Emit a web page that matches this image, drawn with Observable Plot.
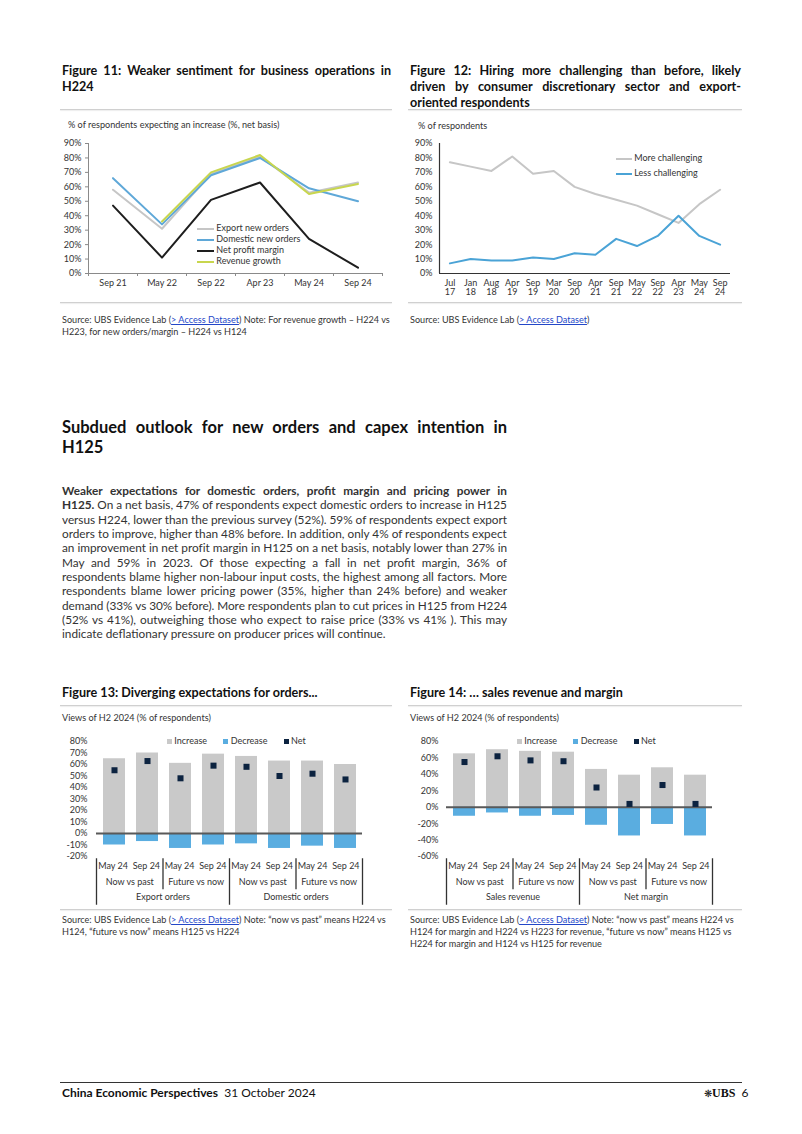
<!DOCTYPE html>
<html><head><meta charset="utf-8">
<script src="https://cdn.jsdelivr.net/npm/d3@7"></script>
<script src="https://cdn.jsdelivr.net/npm/@observablehq/plot@0.6"></script>
<style>
body{margin:0;background:#fff;}
#page{position:relative;width:802px;height:1134px;font-family:Lato,"Open Sans",sans-serif;color:#222;overflow:hidden;background:#fff}
.a{position:absolute;white-space:nowrap}
.ft{font-weight:bold;font-size:12.6px;line-height:16px;color:#111}
.sep{position:absolute;height:1px;background:#d0d0d0;box-shadow:0 1px 1px #ececec}
.sm{font-size:9.1px;line-height:12px;color:#333}
a{color:#2347c8;text-decoration:underline}
.bd{font-size:11.8px;line-height:14.4px;color:#333}
.hd{font-size:16.5px;line-height:20px;font-weight:bold;color:#111}
.lg{font-size:9px;color:#333;line-height:11px}
.sw{display:inline-block;vertical-align:middle}
</style></head>
<body><div id="page">

<!-- Figure 11 title -->
<div class="a ft fit" data-w="329" data-j="1" style="left:62px;top:63px">Figure 11: Weaker sentiment for business operations in</div>
<div class="a ft" style="left:62px;top:79px">H224</div>
<div class="sep" style="left:60px;top:109px;width:332px"></div>
<div class="a sm" style="left:68px;top:119px">% of respondents expecting an increase (%, net basis)</div>
<div id="fig11" class="a" style="left:60px;top:115px"></div>
<div class="a lg" style="left:197px;top:222px">
 <div><span class="sw" style="width:17px;height:2px;background:#c6c6c6"></span> Export new orders</div>
 <div><span class="sw" style="width:17px;height:2px;background:#5fa8d8"></span> Domestic new orders</div>
 <div><span class="sw" style="width:17px;height:2px;background:#1e1e1e"></span> Net profit margin</div>
 <div><span class="sw" style="width:17px;height:2px;background:#c8d64e"></span> Revenue growth</div>
</div>
<div class="sep" style="left:60px;top:302px;width:332px"></div>
<div class="a sm" style="left:62px;top:314px">Source: UBS Evidence Lab (<a>&gt; Access Dataset</a>) Note: For revenue growth – H224 vs</div>
<div class="a sm" style="left:62px;top:326px">H223, for new orders/margin – H224 vs H124</div>

<!-- Figure 12 title -->
<div class="a ft fit" data-w="331" data-j="1" style="left:410px;top:63px">Figure 12: Hiring more challenging than before, likely</div>
<div class="a ft fit" data-w="331" data-j="1" style="left:410px;top:79px">driven by consumer discretionary sector and export-</div>
<div class="a ft" style="left:410px;top:95px">oriented respondents</div>
<div class="sep" style="left:408px;top:109px;width:334px"></div>
<div class="a sm" style="left:418px;top:120px">% of respondents</div>
<div id="fig12" class="a" style="left:410px;top:115px"></div>
<div class="a lg" style="left:616px;top:150px;line-height:15px">
 <div><span class="sw" style="width:16px;height:2px;background:#c6c6c6"></span> More challenging</div>
 <div><span class="sw" style="width:16px;height:2px;background:#4aa3d6"></span> Less challenging</div>
</div>
<div class="sep" style="left:408px;top:302px;width:334px"></div>
<div class="a sm" style="left:410px;top:314px">Source: UBS Evidence Lab (<a>&gt; Access Dataset</a>)</div>

<!-- Heading -->
<div class="a hd fit" data-w="445" data-j="1" style="left:62px;top:417px">Subdued outlook for new orders and capex intention in</div>
<div class="a hd" style="left:62px;top:437px">H125</div>

<!-- Paragraph -->
<div id="para"></div>

<!-- Figure 13 -->
<div class="a ft" style="left:62px;top:685px">Figure 13: Diverging expectations for orders...</div>
<div class="sep" style="left:60px;top:705px;width:332px"></div>
<div class="a sm" style="left:62px;top:712px">Views of H2 2024 (% of respondents)</div>
<div id="fig13" class="a" style="left:60px;top:730px"></div>
<div id="fig13ax" class="a" style="left:60px;top:850px"></div>
<div class="a lg" style="left:167px;top:735px">
 <span class="sw" style="width:5px;height:5px;background:#c9c9c9"></span> Increase
 <span class="sw" style="width:5px;height:5px;background:#5aade0;margin-left:14px"></span> Decrease
 <span class="sw" style="width:5px;height:5px;background:#0c2340;margin-left:14px"></span> Net
</div>
<div class="sep" style="left:60px;top:909px;width:332px"></div>
<div class="a sm" style="left:62px;top:914px">Source: UBS Evidence Lab (<a>&gt; Access Dataset</a>) Note: “now vs past” means H224 vs</div>
<div class="a sm" style="left:62px;top:926px">H124, “future vs now” means H125 vs H224</div>

<!-- Figure 14 -->
<div class="a ft" style="left:410px;top:685px">Figure 14: … sales revenue and margin</div>
<div class="sep" style="left:408px;top:705px;width:334px"></div>
<div class="a sm" style="left:410px;top:712px">Views of H2 2024 (% of respondents)</div>
<div id="fig14" class="a" style="left:410px;top:730px"></div>
<div id="fig14ax" class="a" style="left:410px;top:850px"></div>
<div class="a lg" style="left:517px;top:735px">
 <span class="sw" style="width:5px;height:5px;background:#c9c9c9"></span> Increase
 <span class="sw" style="width:5px;height:5px;background:#5aade0;margin-left:14px"></span> Decrease
 <span class="sw" style="width:5px;height:5px;background:#0c2340;margin-left:14px"></span> Net
</div>
<div class="sep" style="left:408px;top:909px;width:334px"></div>
<div class="a sm" style="left:410px;top:914px">Source: UBS Evidence Lab (<a>&gt; Access Dataset</a>) Note: “now vs past” means H224 vs</div>
<div class="a sm" style="left:410px;top:926px">H124 for margin and H224 vs H223 for revenue, “future vs now” means H125 vs</div>
<div class="a sm" style="left:410px;top:938px">H224 for margin and H124 vs H125 for revenue</div>

<!-- Footer -->
<div style="position:absolute;left:60px;top:1082px;width:682px;height:1px;background:#333"></div>
<div class="a" style="left:62px;top:1086px;font-size:12px;line-height:14px;color:#111"><b>China Economic Perspectives</b>&nbsp; 31 October 2024</div>
<div class="a" style="left:704px;top:1086px;font-size:12px;line-height:14px;color:#111"><span style="font-size:10px">❋</span><span style="font-family:'Liberation Serif',serif;font-weight:bold">UBS</span>&nbsp; 6</div>

</div>
<script>
// ---------- data ----------
const fig11Dates = ["Sep 21", "May 22", "Sep 22", "Apr 23", "May 24", "Sep 24"];
const exportNewOrders = [58, 31, 69, 81, 56, 63];
const domesticNewOrders = [66, 34, 68, 80, 59, 50];
const netProfitMargin = [47, 11, 51, 63, 24, 4];
const revenueGrowth = [null, 36, 70, 82, 55, 62];
const fig11Ticks = [0, 10, 20, 30, 40, 50, 60, 70, 80, 90];

const fig12Dates = ["Jul\n17", "Jan\n18", "Aug\n18", "Apr\n19", "Sep\n19", "Mar\n20", "Sep\n20", "Apr\n21", "Sep\n21", "May\n22", "Sep\n22", "Apr\n23", "May\n24", "Sep\n24"];
const moreChallenging = [77, 74, 71, 81, 69, 71, 60, 55, 51, 47, 41, 35, 48, 58];
const lessChallenging = [7, 10, 9, 9, 11, 10, 14, 13, 24, 19, 26, 40, 26, 20];
const fig12Ticks = [0, 10, 20, 30, 40, 50, 60, 70, 80, 90];

const surveyPeriods = ["May 24", "Sep 24"];
const comparisons = ["Now vs past", "Future vs now"];

const fig13Groups = ["Export orders", "Domestic orders"];
const fig13Increase = [65, 70, 61, 69, 67, 63, 63, 60];
const fig13Decrease = [-10, -7, -13, -10, -9, -13, -11, -13];
const fig13Net = [55, 63, 48, 59, 58, 50, 52, 47];
const fig13Ticks = [-20, -10, 0, 10, 20, 30, 40, 50, 60, 70, 80];

const fig14Groups = ["Sales revenue", "Net margin"];
const fig14Increase = [65, 70, 68, 67, 46, 39, 48, 39];
const fig14Decrease = [-11, -7, -11, -10, -22, -35, -21, -35];
const fig14Net = [55, 62, 57, 56, 24, 4, 27, 4];
const fig14Ticks = [-60, -40, -20, 0, 20, 40, 60, 80];

// ---------- paragraph ----------
const paraLines = [
  ["<b>Weaker expectations for domestic orders, profit margin and pricing power in</b>", 1],
  ["<b>H125.</b> On a net basis, 47% of respondents expect domestic orders to increase in H125", 1],
  ["versus H224, lower than the previous survey (52%). 59% of respondents expect export", 1],
  ["orders to improve, higher than 48% before. In addition, only 4% of respondents expect", 1],
  ["an improvement in net profit margin in H125 on a net basis, notably lower than 27% in", 1],
  ["May and 59% in 2023. Of those expecting a fall in net profit margin, 36% of", 1],
  ["respondents blame higher non-labour input costs, the highest among all factors. More", 1],
  ["respondents blame lower pricing power (35%, higher than 24% before) and weaker", 1],
  ["demand (33% vs 30% before). More respondents plan to cut prices in H125 from H224", 1],
  ["(52% vs 41%), outweighing those who expect to raise price (33% vs 41% ). This may", 1],
  ["indicate deflationary pressure on producer prices will continue.", 0]
];
const para = document.getElementById("para");
paraLines.forEach(([html, j], k) => {
  const d = document.createElement("div");
  d.className = "a bd" + (j ? " fit" : "");
  d.dataset.w = 445; d.dataset.j = j;
  d.style.left = "62px";
  d.style.top = (484 + k * 14.33) + "px";
  d.innerHTML = html;
  para.appendChild(d);
});

// ---------- common ----------
const baseStyle = {fontFamily: "Lato, sans-serif", fontSize: "9px", color: "#333", background: "transparent", overflow: "visible"};
const pct = d => d + "%";

// ---------- Figure 11 ----------
{
  const idx = d3.range(fig11Dates.length);
  const series = [
    {name: "Export new orders", values: exportNewOrders, color: "#c6c6c6"},
    {name: "Domestic new orders", values: domesticNewOrders, color: "#5fa8d8"},
    {name: "Net profit margin", values: netProfitMargin, color: "#1e1e1e"},
    {name: "Revenue growth", values: revenueGrowth, color: "#c8d64e"}
  ];
  const bounds = d3.range(fig11Dates.length + 1).map(i => i - 0.5);
  const plot = Plot.plot({
    width: 335, height: 185,
    marginLeft: 28, marginRight: 13, marginTop: 28, marginBottom: 27,
    style: baseStyle,
    x: {type: "linear", domain: [-0.5, fig11Dates.length - 0.5]},
    y: {domain: [0, 90]},
    marks: [
      Plot.ruleY([0], {stroke: "#8a8a8a"}),
      Plot.ruleX([-0.5], {stroke: "#8a8a8a"}),
      Plot.axisY({ticks: fig11Ticks, tickFormat: pct, tickSize: 3, tickPadding: 4, stroke: "#8a8a8a", label: null}),
      Plot.axisX({ticks: bounds, tickFormat: () => "", tickSize: 3, stroke: "#8a8a8a", label: null}),
      Plot.axisX({ticks: idx, tickFormat: i => fig11Dates[i], tickSize: 0, tickPadding: 6.5, label: null}),
      ...series.map(s => Plot.line(idx.filter(i => s.values[i] != null), {
        x: i => i, y: i => s.values[i], stroke: s.color, strokeWidth: 2
      }))
    ]
  });
  document.getElementById("fig11").appendChild(plot);
}

// ---------- Figure 12 ----------
{
  const idx = d3.range(fig12Dates.length);
  const plot = Plot.plot({
    width: 335, height: 190,
    marginLeft: 29, marginRight: 15, marginTop: 28, marginBottom: 32,
    style: baseStyle,
    x: {type: "linear", domain: [-0.5, fig12Dates.length - 0.5]},
    y: {domain: [0, 90]},
    marks: [
      Plot.ruleY([0], {stroke: "#333", strokeWidth: 1.2}),
      Plot.ruleX([-0.5], {stroke: "#333", strokeWidth: 1.2}),
      Plot.axisY({ticks: fig12Ticks, tickFormat: pct, tickSize: 0, tickPadding: 7, label: null}),
      Plot.axisX({ticks: idx, tickFormat: i => fig12Dates[i], tickSize: 0, tickPadding: 6.5, label: null}),
      Plot.line(idx, {x: i => i, y: i => moreChallenging[i], stroke: "#c6c6c6", strokeWidth: 2}),
      Plot.line(idx, {x: i => i, y: i => lessChallenging[i], stroke: "#4aa3d6", strokeWidth: 2})
    ]
  });
  document.getElementById("fig12").appendChild(plot);
}

// ---------- Figures 13 & 14 ----------
function barFigure(id, groups, inc, dec, net, ticks, yDomain, tickPadding) {
  const rows = inc.map((v, i) => ({
    key: i,
    period: surveyPeriods[i % 2],
    comparison: comparisons[Math.floor(i / 2) % 2],
    group: groups[Math.floor(i / 4)],
    inc: v, dec: dec[i], net: net[i]
  }));
  const keys = rows.map(r => r.key);
  const main = Plot.plot({
    width: 335, height: 132,
    marginLeft: 36, marginRight: 33, marginTop: 11, marginBottom: 6,
    style: baseStyle,
    x: {type: "band", domain: keys, paddingInner: 0.34, paddingOuter: 0.17, axis: null},
    y: {domain: yDomain},
    marks: [
      Plot.axisY({ticks, tickFormat: pct, tickSize: 0, tickPadding, label: null}),
      Plot.barY(rows, {x: "key", y: "inc", fill: "#c9c9c9"}),
      Plot.barY(rows, {x: "key", y: "dec", fill: "#5aade0"}),
      Plot.ruleY([0], {stroke: "#595959", strokeWidth: 2}),
      Plot.dot(rows, {x: "key", y: "net", symbol: "square", r: 3.4, fill: "#0c2340", stroke: null})
    ]
  });
  document.getElementById(id).appendChild(main);

  // hierarchical category axis
  const n = rows.length;
  const pairs = d3.range(n / 2).map(p => ({x: 2 * p + 0.5, label: rows[2 * p].comparison}));
  const quads = d3.range(n / 4).map(q => ({x: 4 * q + 1.5, label: rows[4 * q].group}));
  const seps = d3.range(n / 2 + 1).map(p => ({x: 2 * p - 0.5, tall: p % 2 === 0}));
  const ax = Plot.plot({
    width: 335, height: 60,
    marginLeft: 36, marginRight: 33, marginTop: 16, marginBottom: 13,
    style: baseStyle,
    x: {type: "linear", domain: [-0.5, n - 0.5], axis: null},
    y: {type: "linear", domain: [0, 2], reverse: true, axis: null},
    marks: [
      Plot.ruleX(seps, {x: "x", y1: -0.5, y2: d => d.tall ? 2.5 : 1.5, stroke: "#333", strokeWidth: 1.3}),
      Plot.text(rows, {x: "key", y: 0, text: "period", fill: "#333"}),
      Plot.text(pairs, {x: "x", y: 1, text: "label", fill: "#333"}),
      Plot.text(quads, {x: "x", y: 2, text: "label", fill: "#333"})
    ]
  });
  document.getElementById(id + "ax").appendChild(ax);
}
barFigure("fig13", fig13Groups, fig13Increase, fig13Decrease, fig13Net, fig13Ticks, [-20, 80], 9);
barFigure("fig14", fig14Groups, fig14Increase, fig14Decrease, fig14Net, fig14Ticks, [-60, 80], 8);

// ---------- line fitting (justify) ----------
document.querySelectorAll(".fit").forEach(el => {
  const target = +el.dataset.w;
  const w = el.getBoundingClientRect().width;
  const text = el.textContent;
  const spaces = (text.match(/ /g) || []).length;
  if (w > target) {
    el.style.letterSpacing = ((target - w) / text.length) + "px";
  } else if (+el.dataset.j && spaces) {
    el.style.wordSpacing = ((target - w) / spaces) + "px";
  }
});
</script>
</body></html>
